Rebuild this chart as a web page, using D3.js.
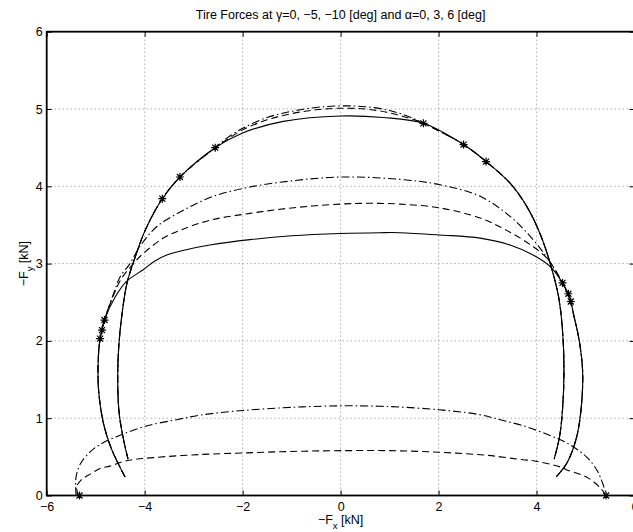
<!DOCTYPE html>
<html><head><meta charset="utf-8">
<script src="https://cdn.jsdelivr.net/npm/d3@7"></script>
<style>
html,body{margin:0;padding:0;background:#fff;}
svg{display:block;font-family:"Liberation Sans",Arial,Helvetica,sans-serif;}
</style></head>
<body><svg id="c" width="633" height="532"></svg>
<script>
// ---- tick values ----
const xTicks = [-6, -4, -2, 0, 2, 4, 6];
const yTicks = [0, 1, 2, 3, 4, 5, 6];

// ---- alpha = 6 deg ----
const a6g0X = [-4.34,-4.43,-4.52,-4.55,-4.53,-4.46,-4.36,-4.19,-3.99,-3.65,-3.28,-2.56,-2.0,-1.17,0.0,0.87,1.69,2.51,2.97,3.46,3.80,4.07,4.28,4.45,4.53,4.56,4.53,4.47,4.36];
const a6g0Y = [0.47,0.72,1.06,1.49,1.92,2.36,2.75,3.09,3.43,3.83,4.12,4.50,4.69,4.84,4.91,4.89,4.815,4.54,4.32,4.04,3.74,3.39,3.00,2.57,2.14,1.62,1.11,0.76,0.47];
const a6g5X = [-4.34,-4.43,-4.52,-4.55,-4.53,-4.46,-4.36,-4.19,-3.99,-3.65,-3.28,-2.56,-2.33,-2.0,-1.5,-1.0,-0.5,0.0,0.5,1.0,1.4,1.69,2.51,2.97,3.46,3.80,4.07,4.28,4.45,4.53,4.56,4.53,4.47,4.36];
const a6g5Y = [0.47,0.72,1.06,1.49,1.92,2.36,2.75,3.09,3.43,3.83,4.12,4.50,4.60,4.73,4.86,4.94,4.99,5.01,5.00,4.95,4.88,4.815,4.54,4.32,4.04,3.74,3.39,3.00,2.57,2.14,1.62,1.11,0.76,0.47];
const a6g10X = [-4.34,-4.43,-4.52,-4.55,-4.53,-4.46,-4.36,-4.19,-3.99,-3.65,-3.28,-2.56,-2.33,-2.0,-1.5,-1.0,-0.5,0.0,0.5,1.0,1.4,1.69,2.51,2.97,3.46,3.80,4.07,4.28,4.45,4.53,4.56,4.53,4.47,4.36];
const a6g10Y = [0.47,0.72,1.06,1.49,1.92,2.36,2.75,3.09,3.43,3.83,4.12,4.50,4.62,4.75,4.89,4.97,5.02,5.04,5.03,4.98,4.90,4.815,4.54,4.32,4.04,3.74,3.39,3.00,2.57,2.14,1.62,1.11,0.76,0.47];

// ---- alpha = 3 deg ----
const a3g0X = [-4.40,-4.67,-4.84,-4.94,-4.95,-4.91,-4.87,-4.82,-4.60,-4.37,-4.03,-3.80,-3.55,-3.15,-2.67,-1.85,-1.0,0.0,0.8,1.21,2.03,2.85,3.46,3.93,4.28,4.53,4.65,4.70,4.75,4.87,4.94,4.92,4.82,4.62,4.40];
const a3g0Y = [0.24,0.59,0.93,1.36,1.71,2.03,2.14,2.27,2.57,2.77,2.92,3.03,3.11,3.18,3.24,3.31,3.36,3.39,3.40,3.40,3.37,3.33,3.24,3.11,2.96,2.75,2.61,2.51,2.36,2.01,1.62,1.19,0.76,0.42,0.24];
const a3g5X = [-4.40,-4.67,-4.84,-4.94,-4.95,-4.91,-4.82,-4.63,-4.48,-4.23,-4.03,-3.62,-3.28,-2.67,-1.85,-1.0,0.0,0.6,1.21,2.03,2.85,3.39,3.93,4.24,4.53,4.70,4.75,4.87,4.94,4.92,4.82,4.62,4.40];
const a3g5Y = [0.24,0.59,0.93,1.36,1.71,2.03,2.27,2.60,2.80,3.00,3.13,3.33,3.43,3.56,3.65,3.72,3.77,3.78,3.77,3.72,3.59,3.43,3.22,3.05,2.75,2.51,2.36,2.01,1.62,1.19,0.76,0.42,0.24];
const a3g10X = [-4.40,-4.67,-4.84,-4.94,-4.95,-4.91,-4.82,-4.63,-4.50,-4.30,-4.10,-3.75,-3.21,-2.6,-1.85,-1.0,0.0,1.21,2.03,2.85,3.46,3.93,4.24,4.53,4.70,4.75,4.87,4.94,4.92,4.82,4.62,4.40];
const a3g10Y = [0.24,0.59,0.93,1.36,1.71,2.03,2.27,2.62,2.83,3.00,3.22,3.48,3.69,3.87,3.99,4.07,4.12,4.09,4.02,3.87,3.61,3.31,3.05,2.75,2.51,2.36,2.01,1.62,1.19,0.76,0.42,0.24];

// ---- alpha = 0 deg ----
const a0g0X = [-5.33, 5.42];
const a0g0Y = [0, 0];
const a0g5X = [-5.35,-5.39,-5.30,-5.10,-4.91,-4.71,-4.37,-3.82,-2.87,-2.0,-1.0,0.0,1.0,2.0,3.0,3.26,3.77,3.94,4.48,4.62,5.02,5.30,5.42];
const a0g5Y = [0.0,0.11,0.20,0.28,0.35,0.38,0.45,0.49,0.53,0.55,0.57,0.58,0.58,0.56,0.52,0.50,0.46,0.45,0.37,0.33,0.24,0.10,0.0];
const a0g10X = [-5.40,-5.41,-5.40,-5.32,-5.12,-4.91,-4.50,-3.96,-3.35,-2.87,-2.0,-1.0,0.0,1.0,2.0,2.8,3.26,3.79,4.3,4.62,5.02,5.23,5.30,5.42];
const a0g10Y = [0.0,0.12,0.24,0.40,0.56,0.66,0.78,0.90,0.98,1.04,1.10,1.14,1.16,1.15,1.11,1.05,0.98,0.89,0.77,0.68,0.50,0.33,0.24,0.03];

// ---- '*' markers ----
const starX = [-3.64,-3.28,-2.56,1.69,2.51,2.97,-4.82,-4.87,-4.91,4.53,4.65,4.70,-5.33,5.42];
const starY = [3.84,4.12,4.50,4.815,4.54,4.32,2.27,2.14,2.03,2.75,2.61,2.51,0,0];

const series = [
  {x:a6g0X,y:a6g0Y,dash:null},
  {x:a6g5X,y:a6g5Y,dash:"7,4"},
  {x:a6g10X,y:a6g10Y,dash:"8,3,1.5,3"},
  {x:a3g0X,y:a3g0Y,dash:null},
  {x:a3g5X,y:a3g5Y,dash:"7,4"},
  {x:a3g10X,y:a3g10Y,dash:"8,3,1.5,3"},
  {x:a0g0X,y:a0g0Y,dash:null},
  {x:a0g5X,y:a0g5Y,dash:"7,4"},
  {x:a0g10X,y:a0g10Y,dash:"8,3,1.5,3"}
];

const L = 46.7, R = 634.5, T = 31.7, B = 495.5;
const FS = "12.5px";
const svg = d3.select("#c");
const x = d3.scaleLinear().domain([-6, 6]).range([L, R]);
const y = d3.scaleLinear().domain([0, 6]).range([B, T]);

// grid
const grid = svg.append("g").attr("stroke", "#888").attr("stroke-width", 1).attr("stroke-dasharray", "1,3");
xTicks.filter(v => v > -6 && v < 6).forEach(v => {
  grid.append("line").attr("x1", x(v)).attr("x2", x(v)).attr("y1", T).attr("y2", B);
});
yTicks.filter(v => v > 0 && v < 6).forEach(v => {
  grid.append("line").attr("x1", L).attr("x2", R).attr("y1", y(v)).attr("y2", y(v));
});

// axes
const fmt = d3.format("");
const ax = svg.append("g").attr("transform", `translate(0,${B})`)
  .call(d3.axisBottom(x).tickValues(xTicks).tickSize(-5).tickSizeOuter(0).tickPadding(7).tickFormat(fmt));
const axT = svg.append("g").attr("transform", `translate(0,${T})`)
  .call(d3.axisTop(x).tickValues(xTicks).tickSize(-5).tickSizeOuter(0).tickFormat(""));
const ay = svg.append("g").attr("transform", `translate(${L},0)`)
  .call(d3.axisLeft(y).tickValues(yTicks).tickSize(-5).tickSizeOuter(0).tickPadding(4).tickFormat(fmt));
const ayR = svg.append("g").attr("transform", `translate(${R},0)`)
  .call(d3.axisRight(y).tickValues(yTicks).tickSize(-5).tickSizeOuter(0).tickFormat(""));
[ax, axT, ay, ayR].forEach(g => {
  g.select(".domain").remove();
  g.selectAll("line").attr("stroke", "#000");
  g.selectAll("text").attr("fill", "#000").style("font-size", FS)
    .style("font-family", '"Liberation Sans",Arial,Helvetica,sans-serif');
});

// curves
const line = d3.line().x(d => x(d[0])).y(d => y(d[1])).curve(d3.curveCatmullRom.alpha(0.5));
series.forEach(s => {
  const pts = s.x.map((v, i) => [v, s.y[i]]);
  const p = svg.append("path").datum(pts).attr("d", line)
    .attr("fill", "none").attr("stroke", "#000").attr("stroke-width", 1.1);
  if (s.dash) p.attr("stroke-dasharray", s.dash);
});

// stars
const starPath = "M-4,0H4M0,-4V4M-3,-3L3,3M-3,3L3,-3";
starX.forEach((v, i) => {
  svg.append("path").attr("d", starPath)
    .attr("transform", `translate(${x(v)},${y(starY[i])})`)
    .attr("stroke", "#000").attr("stroke-width", 1.2).attr("fill", "none");
});

// box
svg.append("rect").attr("x", L).attr("y", T).attr("width", R - L).attr("height", B - T)
  .attr("fill", "none").attr("stroke", "#000").attr("stroke-width", 1.8);

// title
const title = svg.append("text").attr("x", (L + R) / 2).attr("y", 19)
  .attr("text-anchor", "middle").style("font-size", FS);
title.append("tspan").text("Tire Forces at ");
title.append("tspan").text("γ");
title.append("tspan").text("=0, −5, −10 [deg] and ");
title.append("tspan").text("α");
title.append("tspan").text("=0, 3, 6 [deg]");

// x label
const xl = svg.append("text").attr("x", (L + R) / 2).attr("y", 524)
  .attr("text-anchor", "middle").style("font-size", FS);
xl.append("tspan").text("−F");
xl.append("tspan").attr("dy", 5).style("font-size", "9.5px").text("x");
xl.append("tspan").attr("dy", -5).text(" [kN]");

// y label
const yl = svg.append("text").attr("transform", `translate(28,${(T + B) / 2}) rotate(-90)`)
  .attr("text-anchor", "middle").style("font-size", FS);
yl.append("tspan").text("−F");
yl.append("tspan").attr("dy", 5).style("font-size", "9.5px").text("y");
yl.append("tspan").attr("dy", -5).text(" [kN]");
</script></body></html>
